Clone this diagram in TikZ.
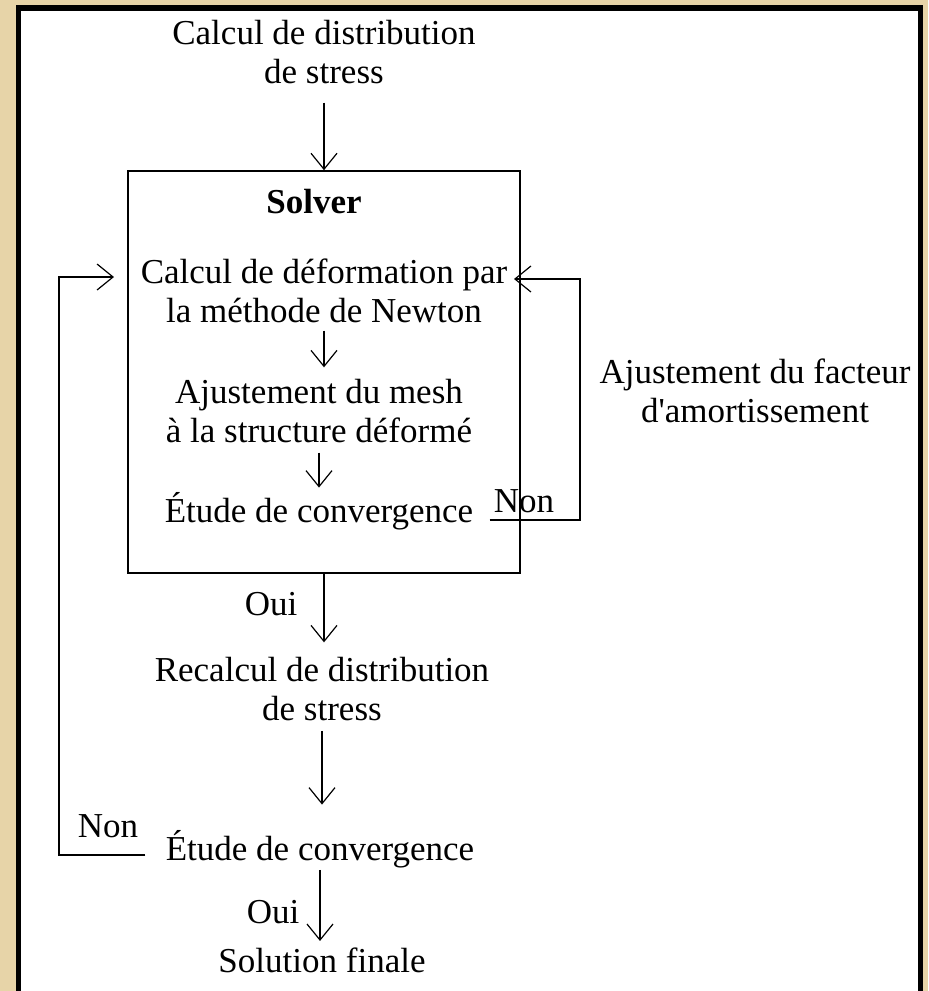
\documentclass[tikz,border=0pt]{standalone}
\usepackage{fontspec}
\setmainfont{Liberation Serif}
\usetikzlibrary{arrows.meta}
\definecolor{parchment}{RGB}{231,212,168}

\begin{document}
\begin{tikzpicture}[x=0.5pt,y=-0.5pt,
	txt/.style={align=center,inner sep=0pt,anchor=base,font=\fontsize{17.5}{19.5}\selectfont},
	flow/.style={line width=0.6pt,-{Straight Barb[length=8pt,width=13pt]}},
	link/.style={line width=0.6pt}]
\useasboundingbox (0,0) rectangle (928,991);
\clip (0,0) rectangle (928,991);
%background and frame
\fill[parchment] (0,0) rectangle (928,991);
\draw[line width=2.8pt,fill=white] (18.5,8) rectangle (920.5,1010);
%solver block
\node[draw,line width=0.8pt,minimum width=196pt,minimum height=201pt,inner sep=0pt] (solver) at (324,372) {};
\node[txt,font=\fontsize{17.5}{19.5}\selectfont\bfseries] (title) at (314,213) {Solver};
\node[txt] (calc) at (324,322) {Calcul de déformation par\\la méthode de Newton};
\node[txt] (mesh) at (319,442) {Ajustement du mesh\\à la structure déformé};
\node[txt] (conv) at (319,522) {Étude de convergence};
%outside the solver
\node[txt] (stress) at (324,83) {Calcul de distribution\\de stress};
\node[txt] (recalc) at (322,720) {Recalcul de distribution\\de stress};
\node[txt] (check) at (320,860) {Étude de convergence};
\node[txt] (final) at (322,972) {Solution finale};
\node[txt] (damping) at (755,422) {Ajustement du facteur\\d\textquotesingle amortissement};
%answers
\node[txt] (noin) at (524,512) {Non};
\node[txt] (nout) at (108,837) {Non};
\node[txt] (yesin) at (271,615) {Oui};
\node[txt] (yesout) at (273,923) {Oui};
%loop corners
\coordinate (dampcorner) at (580,520);
\coordinate (dampend) at (514,279);
\coordinate (retrycorner) at (59,855);
\coordinate (retryend) at (114,277);
%arrows
\draw[flow,shorten <=9.5pt] (stress.south) -- (stress.south |- solver.north);
\draw[flow,shorten <=4pt,shorten >=5.5pt] (calc.south) -- (calc.south |- mesh.north);
\draw[flow,shorten <=5pt,shorten >=2pt] (mesh.south) -- (mesh.south |- conv.north);
\draw[flow,shorten >=7pt] (solver.south) -- (solver.south |- recalc.north);
\draw[flow,shorten <=5pt,shorten >=12.5pt] (recalc.south) -- (recalc.south |- check.north);
\draw[flow,shorten <=1pt,shorten >=3pt] (check.south) -- (check.south |- final.north);
\draw[flow] ([xshift=8pt,yshift=1pt]conv.base east) -- (dampcorner) |- (dampend);
\draw[flow] ([xshift=-10pt,yshift=2.5pt]check.base west) -- (retrycorner) |- (retryend);
\end{tikzpicture}
\end{document}
